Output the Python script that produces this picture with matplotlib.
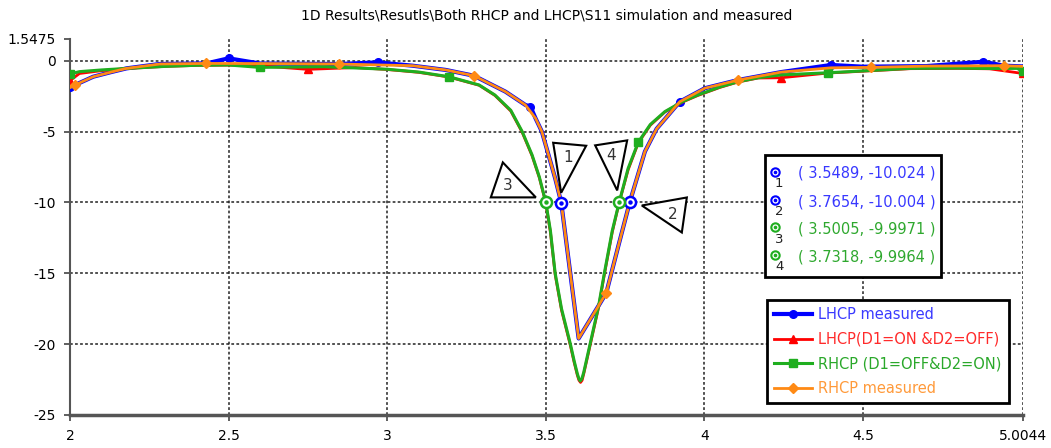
import matplotlib
matplotlib.use("Agg")
import matplotlib.pyplot as plt
import matplotlib.transforms as mtransforms
from matplotlib.patches import Polygon, Rectangle
import numpy as np

# LHCP measured
lhcp_meas_f = [2.0, 2.016, 2.073, 2.13, 2.178, 2.283, 2.43, 2.5, 2.6, 2.849, 2.97, 3.08, 3.185,
               3.274, 3.373, 3.436, 3.452, 3.468, 3.488, 3.509, 3.53, 3.549, 3.604, 3.691,
               3.73, 3.765, 3.813, 3.85, 3.923, 4.002, 4.107, 4.243, 4.4, 4.5, 4.7, 4.88,
               4.946, 5.0044]
lhcp_meas_db = [-1.83, -1.71, -1.13, -0.8, -0.54, -0.23, -0.19, 0.17, -0.2, -0.23, -0.12, -0.35,
                -0.65, -1.06, -2.18, -3.12, -3.24, -4.06, -5.0, -6.65, -8.3, -10.0, -19.6,
                -16.4, -13.0, -10.0, -6.41, -4.8, -2.89, -1.94, -1.36, -0.8, -0.3, -0.42,
                -0.38, -0.07, -0.35, -0.4]
lhcp_meas_marks = [2.0, 2.5, 2.97, 3.452, 3.923, 4.4, 4.88]

# RHCP measured
rhcp_meas_f = [2.0, 2.016, 2.073, 2.13, 2.178, 2.283, 2.43, 2.6, 2.849, 2.975, 3.08, 3.185,
               3.274, 3.373, 3.436, 3.468, 3.488, 3.509, 3.53, 3.549, 3.604, 3.691, 3.73,
               3.765, 3.813, 3.85, 3.923, 4.002, 4.107, 4.243, 4.4, 4.526, 4.7, 4.946, 5.0044]
rhcp_meas_db = [-1.9, -1.71, -1.13, -0.8, -0.54, -0.23, -0.19, -0.2, -0.23, -0.3, -0.35, -0.65,
                -1.06, -2.18, -3.12, -4.06, -5.0, -6.65, -8.3, -10.0, -19.6, -16.4, -13.0,
                -10.0, -6.41, -4.8, -2.89, -1.94, -1.36, -0.8, -0.5, -0.47, -0.38, -0.35, -0.4]
rhcp_meas_marks = [2.016, 2.43, 2.849, 3.274, 3.691, 4.107, 4.526, 4.946]

# RHCP simulation (D1=OFF & D2=ON)
rhcp_sim_f = [2.0, 2.03, 2.1, 2.18, 2.3, 2.4, 2.5, 2.598, 2.8, 3.0, 3.1, 3.195, 3.29, 3.34,
              3.39, 3.426, 3.457, 3.48, 3.5005, 3.515, 3.53, 3.55, 3.578, 3.59, 3.6, 3.605,
              3.609, 3.614, 3.62, 3.63, 3.64, 3.667, 3.685, 3.71, 3.7318, 3.76, 3.792, 3.83,
              3.876, 3.93, 3.98, 4.05, 4.107, 4.17, 4.243, 4.39, 4.5, 4.65, 4.8, 4.9, 4.987,
              5.0044]
rhcp_sim_db = [-0.94, -0.77, -0.65, -0.54, -0.4, -0.32, -0.3, -0.47, -0.42, -0.6, -0.8, -1.13,
               -1.71, -2.42, -3.5, -5.0, -6.64, -8.2, -9.9971, -12.0, -15.0, -17.5, -20.0,
               -21.2, -22.1, -22.45, -22.6, -22.45, -22.0, -21.0, -20.0, -17.3, -15.0, -12.0,
               -9.9964, -7.6, -5.75, -4.5, -3.59, -2.9, -2.42, -1.85, -1.48, -1.2, -1.0, -0.85,
               -0.72, -0.54, -0.52, -0.55, -0.54, -0.75]
rhcp_sim_marks = [2.0, 2.598, 3.195, 3.792, 4.39, 5.0044]

# LHCP simulation (D1=ON & D2=OFF)
lhcp_sim_f = [2.0, 2.03, 2.1, 2.18, 2.3, 2.4, 2.5, 2.6, 2.75, 2.9, 3.0, 3.1, 3.195, 3.29, 3.34,
              3.39, 3.426, 3.457, 3.48, 3.5, 3.515, 3.53, 3.55, 3.578, 3.59, 3.6, 3.605, 3.61,
              3.615, 3.62, 3.63, 3.64, 3.667, 3.685, 3.71, 3.732, 3.76, 3.792, 3.83, 3.876,
              3.93, 3.98, 4.05, 4.107, 4.17, 4.243, 4.39, 4.5, 4.65, 4.8, 4.9, 5.0044]
lhcp_sim_db = [-1.4, -0.9, -0.7, -0.55, -0.4, -0.33, -0.31, -0.36, -0.61, -0.48, -0.62, -0.82,
               -1.15, -1.73, -2.45, -3.55, -5.05, -6.7, -8.25, -10.0, -12.1, -15.1, -17.6,
               -20.1, -21.3, -22.2, -22.55, -22.7, -22.55, -22.1, -21.1, -20.1, -17.4, -15.1,
               -12.1, -10.0, -7.7, -5.8, -4.55, -3.62, -2.93, -2.45, -1.88, -1.5, -1.22, -1.2,
               -0.87, -0.74, -0.56, -0.54, -0.57, -0.9]
lhcp_sim_marks = [2.0, 2.75, 3.5, 4.243, 5.0044]

# -10 dB marker readouts
marker_ids = ["1", "2", "3", "4"]
marker_f = [3.5489, 3.7654, 3.5005, 3.7318]
marker_db = [-10.024, -10.004, -9.9971, -9.9964]

xticks = [2, 2.5, 3, 3.5, 4, 4.5, 5.0044]
xtick_labels = ["2", "2.5", "3", "3.5", "4", "4.5", "5.0044"]
yticks = [1.5475, 0, -5, -10, -15, -20, -25]
ytick_labels = ["1.5475", "0", "-5", "-10", "-15", "-20", "-25"]

BLUE = "#0000ff"
RED = "#ff0000"
GREEN = "#1fae1f"
ORANGE = "#ff8a14"

plt.rcParams["font.family"] = ["DejaVu Sans"]

fig = plt.figure(figsize=(10.51, 4.48), dpi=100)
ax = fig.add_axes([0.0666, 0.0737, 0.9065, 0.8397])


def marks(freq, mark_f):
    return np.isin(np.round(freq, 4), np.round(mark_f, 4))


ax.plot(lhcp_meas_f, lhcp_meas_db, color=BLUE, lw=3, marker="o", ms=5.5,
        markevery=marks(lhcp_meas_f, lhcp_meas_marks), label="LHCP measured", zorder=3)
ax.plot(lhcp_sim_f, lhcp_sim_db, color=RED, lw=2, marker="^", ms=6,
        markevery=marks(lhcp_sim_f, lhcp_sim_marks), label="LHCP(D1=ON &D2=OFF)", zorder=3)
ax.plot(rhcp_sim_f, rhcp_sim_db, color=GREEN, lw=2.2, marker="s", ms=5.5,
        markevery=marks(rhcp_sim_f, rhcp_sim_marks), label="RHCP (D1=OFF&D2=ON)", zorder=4)
ax.plot(rhcp_meas_f, rhcp_meas_db, color=ORANGE, lw=2, marker="D", ms=5,
        markevery=marks(rhcp_meas_f, rhcp_meas_marks), label="RHCP measured", zorder=5)

ax.set_xlim(2, 5.0044)
ax.set_ylim(-25, 1.5475)
ax.set_xticks(xticks)
ax.set_xticklabels(xtick_labels)
ax.set_yticks(yticks)
ax.set_yticklabels(ytick_labels)
ax.tick_params(labelsize=10, length=4, width=1.2, color="#444444", pad=6)

ax.grid(True, color="#222222", lw=1.1, ls=(0, (1.8, 1.5)))
ax.yaxis.get_gridlines()[0].set_visible(False)
for side in ("top", "right"):
    ax.spines[side].set_visible(False)
ax.spines["left"].set_color("#555555")
ax.spines["left"].set_linewidth(1.5)
ax.spines["bottom"].set_color("#555555")
ax.spines["bottom"].set_linewidth(2.5)
ax.set_axisbelow(True)

ax.set_title(r"1D Results\Resutls\Both RHCP and LHCP\S11 simulation and measured",
             fontsize=10, pad=14)

# -10 dB markers and their callout triangles (offsets in pixels)
marker_colors = [BLUE, BLUE, GREEN, GREEN]
callouts = {
    "1": ([(-8, 60), (25, 57), (0, 10)], (7, 45)),
    "2": ([(12, -3), (57, 5), (52, -30)], (43, -12)),
    "3": ([(-43, 40), (-55, 5), (-10, 5)], (-38, 17)),
    "4": ([(-24, 57), (8, 62), (-2, 12)], (-8, 47)),
}
for mid, f, db, c in zip(marker_ids, marker_f, marker_db, marker_colors):
    ax.plot(f, db, marker="o", ms=8, mfc="white", mec=c, mew=1.8, zorder=6)
    ax.plot(f, db, marker="o", ms=2.2, color=c, zorder=7)
    anchor = mtransforms.Affine2D() + mtransforms.ScaledTranslation(f, db, ax.transData)
    verts, lab = callouts[mid]
    ax.add_patch(Polygon(verts, closed=True, fc="white", ec="black", lw=1.5,
                         transform=anchor, zorder=8, clip_on=False))
    ax.text(lab[0], lab[1], mid, transform=anchor, ha="center", va="center",
            fontsize=11, color="#333333", zorder=9)

# marker readout box
box = Rectangle((0.7295, 0.3668), 0.1847, 0.3243, transform=ax.transAxes,
                fc="white", ec="black", lw=2, zorder=10)
ax.add_patch(box)
row_y = [0.6425, 0.5670, 0.4944, 0.4208]
text_colors = ["#3838ff", "#3838ff", "#2ea82e", "#2ea82e"]
for mid, f, db, c, tc, y in zip(marker_ids, marker_f, marker_db, marker_colors,
                                text_colors, row_y):
    ax.plot(0.740, y + 0.004, marker="o", ms=6, mfc="white", mec=c, mew=1.5,
            transform=ax.transAxes, zorder=11, clip_on=False)
    ax.plot(0.740, y + 0.004, marker="o", ms=1.6, color=c, transform=ax.transAxes,
            zorder=12, clip_on=False)
    ax.text(0.7445, y - 0.027, mid, transform=ax.transAxes, ha="center", va="center",
            fontsize=9.5, color="#222222", zorder=12)
    ax.text(0.7641, y, f"( {f}, {db} )", transform=ax.transAxes, ha="left",
            va="center", fontsize=10.5, color=tc, zorder=12)

leg = ax.legend(loc="lower right", bbox_to_anchor=(0.9853, 0.0319), fontsize=10.5,
                frameon=True, fancybox=False, edgecolor="black", framealpha=1,
                handlelength=2.6, handletextpad=0.4, labelspacing=0.65,
                borderpad=0.5, borderaxespad=0)
leg.get_frame().set_linewidth(2)
leg.set_zorder(10)
for txt, col in zip(leg.get_texts(), ["#3a3aff", "#ff2a2a", "#2aa82a", "#ff9a3a"]):
    txt.set_color(col)

fig.savefig("out.png", dpi=100)
